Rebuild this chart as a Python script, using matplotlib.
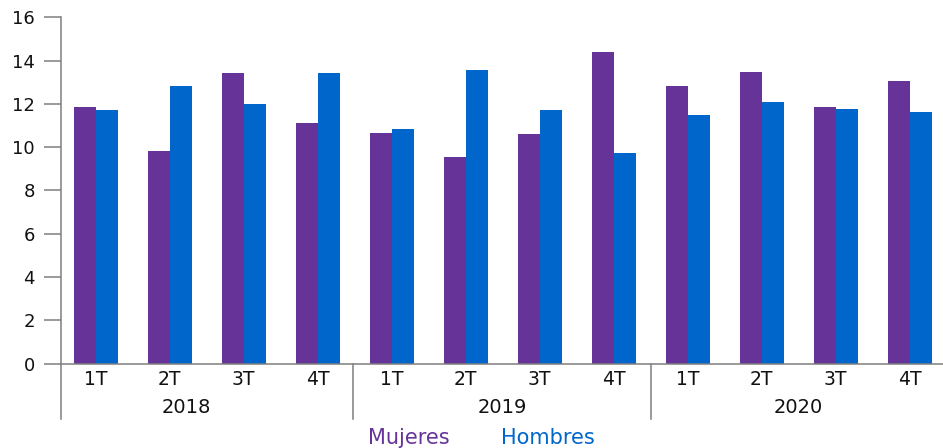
import matplotlib

matplotlib.use("Agg")
import matplotlib.pyplot as plt  # noqa: E402
import numpy as np  # noqa: E402

PURPLE = "#663399"
BLUE = "#0066cc"
AXIS = "#7f7f7f"
INK = "#111111"

years = ["2018", "2019", "2020"]
quarters = ["1T", "2T", "3T", "4T"]
mujeres = [11.85, 9.81, 13.42, 11.11, 10.65, 9.54, 10.60, 14.39, 12.82, 13.46, 11.85, 13.05]
hombres = [11.71, 12.82, 11.99, 13.42, 10.83, 13.56, 11.71, 9.72, 11.48, 12.08, 11.76, 11.62]
y_ticks = [0, 2, 4, 6, 8, 10, 12, 14, 16]

plt.rcParams.update({"font.family": ["DejaVu Sans"], "font.size": 12})

fig = plt.figure(figsize=(9.43, 4.48), dpi=100)
ax = fig.add_axes([61 / 943, (448 - 363.5) / 448, 1 - 61 / 943, (363.5 - 17.3) / 448])

x = np.arange(len(mujeres))
w = 0.3
ax.bar(x - w / 2, mujeres, width=w, color=PURPLE, linewidth=0)
ax.bar(x + w / 2, hombres, width=w, color=BLUE, linewidth=0)

ax.set_xlim(-0.47, 11.45)
ax.set_ylim(0, 16)
ax.set_yticks(y_ticks)
ax.tick_params(axis="y", length=12.2, width=1.1, color=AXIS, pad=6.5, labelcolor=INK, labelsize=13)
ax.set_xticks(x)
ax.set_xticklabels(quarters * len(years), fontsize=13.5, color=INK)
ax.tick_params(axis="x", length=0, pad=4.5)

for side in ("top", "right"):
    ax.spines[side].set_visible(False)
for side in ("left", "bottom"):
    ax.spines[side].set_color(AXIS)
    ax.spines[side].set_linewidth(1.1)

# group separators below the axis
trans = ax.get_xaxis_transform()
for xs in (-0.47, 3.47, 7.5):
    ax.plot([xs, xs], [0, -0.16], transform=trans, color=AXIS, linewidth=1.1, clip_on=False)
for xc, yr in zip((1.23, 5.5, 9.5), years):
    ax.text(xc, -0.128, yr, transform=trans, ha="center", va="center", fontsize=14, color=INK)

# text legend
fig.text(409 / 943, 1 - 438 / 448, "Mujeres", color=PURPLE, ha="center", va="center", fontsize=15)
fig.text(548 / 943, 1 - 438 / 448, "Hombres", color=BLUE, ha="center", va="center", fontsize=15)

fig.savefig("out.png", dpi=100)
